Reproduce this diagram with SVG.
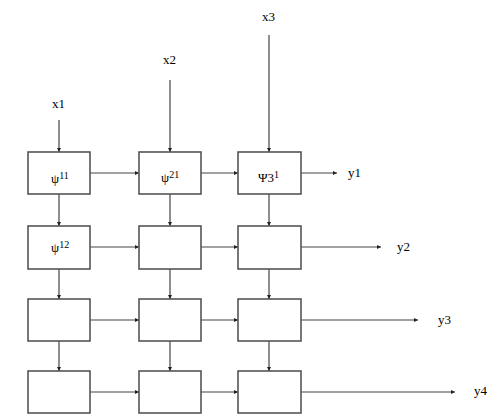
<svg xmlns="http://www.w3.org/2000/svg" width="499" height="420" viewBox="0 0 499 420">
<style>
.box{fill:#fff;stroke:#555;stroke-width:1.6}
.c{stroke:#444;stroke-width:1.2;fill:none;marker-end:url(#ah)}
.t{font-family:"Liberation Serif","DejaVu Serif",serif;font-size:13px;fill:#000}
.s{font-size:10px}
</style>
<defs>
<marker id="ah" viewBox="0 0 6 6" refX="6" refY="3" markerWidth="4" markerHeight="4" orient="auto" markerUnits="userSpaceOnUse">
<path d="M0,0L6,3L0,6z" fill="#222"/>
</marker>
</defs>
<g id="connectors">
<path class="c" d="M59,120V152"/>
<path class="c" d="M170,80V152"/>
<path class="c" d="M269,35V152"/>
<path class="c" d="M59,194V226"/>
<path class="c" d="M59,269V299"/>
<path class="c" d="M59,341V371"/>
<path class="c" d="M170,194V226"/>
<path class="c" d="M170,269V299"/>
<path class="c" d="M170,341V371"/>
<path class="c" d="M269,194V226"/>
<path class="c" d="M269,269V299"/>
<path class="c" d="M269,341V371"/>
<path class="c" d="M90,173H139"/>
<path class="c" d="M201,173H238"/>
<path class="c" d="M90,247H139"/>
<path class="c" d="M201,247H238"/>
<path class="c" d="M90,320H139"/>
<path class="c" d="M201,320H238"/>
<path class="c" d="M90,392H139"/>
<path class="c" d="M201,392H238"/>
<path class="c" d="M301,173H337"/>
<path class="c" d="M301,247H381"/>
<path class="c" d="M301,320H418"/>
<path class="c" d="M301,392H455"/>
</g>
<g id="labels">
<text class="t" x="52" y="108">x1</text>
<text class="t" x="163" y="64">x2</text>
<text class="t" x="262" y="21">x3</text>
<text class="t" x="348" y="177">y1</text>
<text class="t" x="397" y="251">y2</text>
<text class="t" x="438" y="324">y3</text>
<text class="t" x="474" y="395">y4</text>
</g>
<g id="n11"><rect class="box" x="28" y="152" width="62" height="42"/><text class="t" x="51" y="183">ψ<tspan class="s" dy="-4">11</tspan></text></g>
<g id="n21"><rect class="box" x="139" y="152" width="62" height="42"/><text class="t" x="161" y="182">ψ<tspan class="s" dy="-4">21</tspan></text></g>
<g id="n31"><rect class="box" x="238" y="152" width="63" height="42"/><text class="t" x="258" y="182">Ψ3<tspan class="s" dy="-4">1</tspan></text></g>
<g id="n12"><rect class="box" x="28" y="226" width="62" height="43"/><text class="t" x="51" y="252">ψ<tspan class="s" dy="-4">12</tspan></text></g>
<g id="n22"><rect class="box" x="139" y="226" width="62" height="43"/></g>
<g id="n32"><rect class="box" x="238" y="226" width="63" height="43"/></g>
<g id="n13"><rect class="box" x="28" y="299" width="62" height="42"/></g>
<g id="n23"><rect class="box" x="139" y="299" width="62" height="42"/></g>
<g id="n33"><rect class="box" x="238" y="299" width="63" height="42"/></g>
<g id="n14"><rect class="box" x="28" y="371" width="62" height="42"/></g>
<g id="n24"><rect class="box" x="139" y="371" width="62" height="42"/></g>
<g id="n34"><rect class="box" x="238" y="371" width="63" height="42"/></g>
</svg>
